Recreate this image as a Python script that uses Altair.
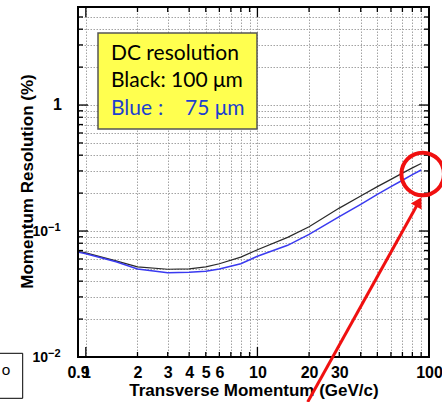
import altair as alt
import pandas as pd

# ---------------- data ----------------
p_gev = [0.9, 1, 1.5, 2, 3, 4, 5, 6, 8, 10, 15, 20, 30, 40, 50, 60, 70, 80, 90]
res_black_100um = [0.069, 0.067, 0.058, 0.052, 0.0497, 0.050, 0.052, 0.055, 0.062, 0.071,
                   0.089, 0.108, 0.152, 0.19, 0.225, 0.257, 0.288, 0.317, 0.344]
res_blue_75um = [0.068, 0.066, 0.057, 0.050, 0.0467, 0.047, 0.048, 0.050, 0.055, 0.063,
                 0.077, 0.094, 0.130, 0.163, 0.195, 0.225, 0.253, 0.28, 0.305]

x_grid_values = [1, 2, 3, 4, 5, 6, 7, 8, 9, 10, 20, 30, 40, 50, 60, 70, 80, 90]
x_major_ticks = [1, 10]
x_label_values = [0.9, 1, 2, 3, 4, 5, 6, 10, 20, 30, 100]

y_grid_values = [0.02, 0.03, 0.04, 0.05, 0.06, 0.07, 0.08, 0.09,
                 0.1, 0.2, 0.3, 0.4, 0.5, 0.6, 0.7, 0.8, 0.9, 1, 2, 3, 4, 5]
y_major_ticks = [0.1, 1]
y_pow_values = [0.01, 0.1]
y_pow_base = ["10", "10"]
y_pow_exp = ["\u22122", "\u22121"]
y_unit_values = [1]
y_unit_text = ["1"]

box_title = "DC resolution"
black_label = "Black: 100 \u03bcm"
blue_parts = ["Blue", ":", "75 \u03bcm"]
x_title = "Transverse Momentum (GeV/c)"
y_title = "Momentum Resolution (%)"
cut_text = "o"

# ---------------- layout constants ----------------
W, H = 351, 350
XDOM, YDOM = [0.9, 100], [0.01, 6]
FONT = "Liberation Sans"
BOXFONT = "Lato"

curves = pd.DataFrame({"p": p_gev, "black": res_black_100um, "blue": res_blue_75um})

xscale = alt.Scale(type="log", domain=XDOM, nice=False)
yscale = alt.Scale(type="log", domain=YDOM, nice=False)

x_vals = sorted(set(x_grid_values + x_label_values))
y_vals = sorted(set(y_grid_values + y_pow_values))

x_label_expr = f"indexof({x_label_values}, datum.value) >= 0 ? toString(datum.value) : ''"

GRID = dict(grid=True, gridColor="#a3a3a3", gridDash=[1.5, 1.5], gridWidth=1)

x_axis = alt.Axis(
    values=x_vals, labelExpr=x_label_expr, ticks=False, tickSize=0, domain=False, **GRID,
    labelFont=FONT, labelFontWeight="bold", labelFontSize=16, labelColor="black",
    labelPadding=7, labelOverlap=False, labelFlush=False,
    title=x_title, titleFont=FONT, titleFontWeight="bold", titleFontSize=17, titleColor="black",
    titleX=W / 2, titleY=38, titleBaseline="alphabetic", titleAlign="center",
)
y_axis = alt.Axis(
    values=y_vals, labels=False, ticks=False, tickSize=0, domain=False, **GRID,
    title=y_title, titleFont=FONT, titleFontWeight="bold", titleFontSize=17, titleColor="black",
    titleX=-46, titleY=174, titleAngle=270, titleBaseline="alphabetic", titleAlign="center",
)

black_line = alt.Chart(curves).mark_line(color="#2a2a2a", strokeWidth=1.2).encode(
    x=alt.X("p:Q", scale=xscale, axis=x_axis),
    y=alt.Y("black:Q", scale=yscale, axis=y_axis),
)
blue_line = alt.Chart(curves).mark_line(color="#3a3af0", strokeWidth=1.5).encode(
    x=alt.X("p:Q", scale=xscale),
    y=alt.Y("blue:Q", scale=yscale),
)


def xticks(values, y0, y1):
    df = pd.DataFrame({"v": values})
    return alt.Chart(df).mark_rule(color="black", strokeWidth=1.3).encode(
        x=alt.X("v:Q", scale=xscale), y=alt.value(y0), y2=alt.value(y1))


def yticks(values, x0, x1):
    df = pd.DataFrame({"v": values})
    return alt.Chart(df).mark_rule(color="black", strokeWidth=1.3).encode(
        y=alt.Y("v:Q", scale=yscale), x=alt.value(x0), x2=alt.value(x1))


x_minor = [v for v in x_grid_values if v not in x_major_ticks]
y_minor = [v for v in y_grid_values if v not in y_major_ticks]
ticks = [
    xticks(x_major_ticks, H, H - 10), xticks(x_minor, H, H - 5),
    xticks(x_major_ticks, 0, 10), xticks(x_minor, 0, 5),
    yticks(y_major_ticks, 0, 10), yticks(y_minor, 0, 5),
    yticks(y_major_ticks, W, W - 10), yticks(y_minor, W, W - 5),
]

# y-axis tick labels (10 with superscript exponent)
pow_df = pd.DataFrame({"v": y_pow_values, "base": y_pow_base, "exp": y_pow_exp})
unit_df = pd.DataFrame({"v": y_unit_values, "t": y_unit_text})
ylab_style = dict(font=FONT, fontWeight="bold", color="black")
y_base_labels = alt.Chart(pow_df).mark_text(
    fontSize=14, align="right", baseline="middle", dy=1, **ylab_style
).encode(y=alt.Y("v:Q", scale=yscale), x=alt.value(-30), text="base:N")
y_exp_labels = alt.Chart(pow_df).mark_text(
    fontSize=11, align="left", baseline="middle", dy=-3, **ylab_style
).encode(y=alt.Y("v:Q", scale=yscale), x=alt.value(-30), text="exp:N")
y_unit_labels = alt.Chart(unit_df).mark_text(
    fontSize=16, align="right", baseline="middle", **ylab_style
).encode(y=alt.Y("v:Q", scale=yscale), x=alt.value(-16), text="t:N")

one = pd.DataFrame({"k": [0]})


def label(text, x, y, color="black", size=21, font=BOXFONT, align="left"):
    df = pd.DataFrame({"t": [text]})
    return alt.Chart(df).mark_text(
        font=font, fontSize=size, color=color, align=align, baseline="alphabetic"
    ).encode(x=alt.value(x), y=alt.value(y), text="t:N")


frame = alt.Chart(one).mark_rect(fill=None, stroke="black", strokeWidth=2).encode(
    x=alt.value(0), x2=alt.value(W), y=alt.value(0), y2=alt.value(H))

box = alt.Chart(one).mark_rect(fill="#ffff4f", stroke="#555555", strokeWidth=1.5).encode(
    x=alt.value(20), x2=alt.value(179), y=alt.value(26), y2=alt.value(122))

box_texts = [
    label(box_title, 33, 53),
    label(black_label, 33, 80),
    label(blue_parts[0], 33, 108, color="#1c3fd0"),
    label(blue_parts[1], 80, 108, color="#1c3fd0"),
    label(blue_parts[2], 107, 108, color="#1c3fd0"),
]

cut_box = alt.Chart(one).mark_rect(fill="white", stroke="black", strokeWidth=1).encode(
    x=alt.value(-90), x2=alt.value(-55.3), y=alt.value(346.3), y2=alt.value(391.3))
cut_label = label(cut_text, -72, 368, size=15, align="center")

circle = alt.Chart(one).mark_point(
    shape="circle", filled=False, color="#f01010", strokeWidth=4, opacity=1, size=1810
).encode(x=alt.value(344.7), y=alt.value(167))

arrow_line = alt.Chart(one).mark_rule(color="#f01010", strokeWidth=3).encode(
    x=alt.value(229.7), y=alt.value(395), x2=alt.value(340.8), y2=alt.value(194.9))
arrow_head = alt.Chart(one).mark_point(
    shape="triangle-up", filled=True, color="#f01010", opacity=1, size=150, angle=29
).encode(x=alt.value(340.8), y=alt.value(194.9))

chart = alt.layer(
    black_line, blue_line, *ticks, y_base_labels, y_exp_labels, y_unit_labels,
    frame, box, *box_texts, cut_box, cut_label,
    circle, arrow_line, arrow_head,
).properties(
    width=W, height=H,
    autosize=alt.AutoSizeParams(type="none"),
    padding={"left": 78, "top": 7, "right": 13, "bottom": 45},
    background="white",
).configure_view(stroke=None)

chart.save("out.html", embed_options={"renderer": "svg", "actions": False})
